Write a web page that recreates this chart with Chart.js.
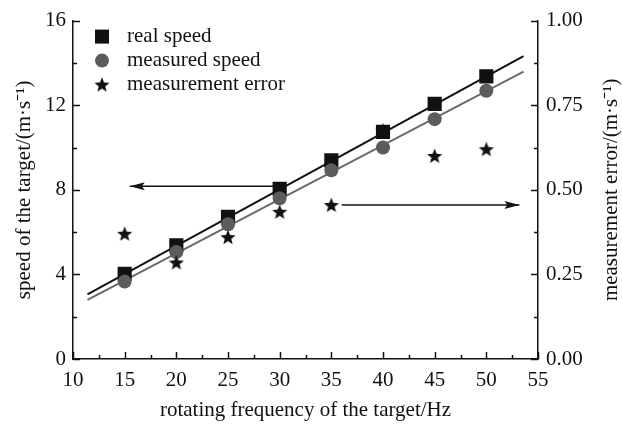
<!DOCTYPE html>
<html><head><meta charset="utf-8">
<script src="https://cdn.jsdelivr.net/npm/chart.js@4/dist/chart.umd.min.js"></script>
<style>html,body{margin:0;padding:0;background:#fff}#wrap{width:622px;height:424px}</style>
</head><body><div id="wrap"><canvas id="c" width="622" height="424"></canvas></div>
<script>
// ---- data ----
const frequency = [15, 20, 25, 30, 35, 40, 45, 50];
const realSpeed = [4.03, 5.38, 6.72, 8.05, 9.39, 10.74, 12.06, 13.36];
const measuredSpeed = [3.66, 5.06, 6.37, 7.6, 8.92, 10.0, 11.34, 12.68];
const measurementError = [0.37, 0.285, 0.36, 0.435, 0.455, 0.675, 0.6, 0.62];
const fitFrequency = [11.4, 53.6];
const realFit = [3.05, 14.32];
const measuredFit = [2.80, 13.59];
const leftArrowX = [30, 15.5];
const leftArrowY = [8.17, 8.17];
const rightArrowX = [36.0, 53.2];
const rightArrowY = [0.455, 0.455];
const xTickValues = [10, 15, 20, 25, 30, 35, 40, 45, 50, 55];
const leftTickValues = [0, 4, 8, 12, 16];
const rightTickValues = [0.00, 0.25, 0.50, 0.75, 1.00];
const legendLabels = ['real speed', 'measured speed', 'measurement error'];
const xTitle = 'rotating frequency of the target/Hz';
const leftTitle = 'speed of the target/(m·s⁻¹)';
const rightTitle = 'measurement error/(m·s⁻¹)';

const FONT = "'Liberation Serif', 'Times New Roman', serif";
Chart.defaults.font.family = FONT;
Chart.defaults.font.size = 21;
Chart.defaults.color = '#111';

function starPath(ctx, cx, cy, R, r) {
  ctx.beginPath();
  for (let i = 0; i < 10; i++) {
    const rad = i % 2 === 0 ? R : r;
    const a = -Math.PI / 2 + i * Math.PI / 5;
    const px = cx + rad * Math.cos(a), py = cy + rad * Math.sin(a);
    if (i === 0) ctx.moveTo(px, py); else ctx.lineTo(px, py);
  }
  ctx.closePath();
}
const starImg = document.createElement('canvas');
starImg.width = 18; starImg.height = 18;
(function () {
  const g = starImg.getContext('2d');
  g.fillStyle = '#111';
  starPath(g, 9, 9.6, 8, 3.4);
  g.fill();
})();

const pts = (xs, ys) => xs.map((x, i) => ({ x: x, y: ys[i] }));

const insideTicks = {
  id: 'insideTicks',
  afterDraw(chart) {
    const ctx = chart.ctx, a = chart.chartArea;
    ctx.save();
    ctx.strokeStyle = '#111';
    ctx.lineWidth = 1.5;
    const x = chart.scales.x, yl = chart.scales.y, yr = chart.scales.y2;
    ctx.beginPath();
    for (let v = 10; v <= 55.001; v += 2.5) {
      const p = Math.round(x.getPixelForValue(v)) + 0.5;
      const len = Math.abs(v % 5) < 1e-6 ? 7 : 4;
      ctx.moveTo(p, a.bottom); ctx.lineTo(p, a.bottom - len);
    }
    for (let v = 0; v <= 16.001; v += 2) {
      const p = Math.round(yl.getPixelForValue(v)) + 0.5;
      const len = Math.abs(v % 4) < 1e-6 ? 7 : 4;
      ctx.moveTo(a.left, p); ctx.lineTo(a.left + len, p);
    }
    for (let i = 0; i <= 8; i++) {
      const v = i * 0.125;
      const p = Math.round(yr.getPixelForValue(v)) + 0.5;
      const len = i % 2 === 0 ? 7 : 4;
      ctx.moveTo(a.right, p); ctx.lineTo(a.right - len, p);
    }
    ctx.stroke();
    // right axis title, reading bottom to top
    ctx.fillStyle = '#111';
    ctx.font = '21px ' + FONT;
    ctx.textAlign = 'center';
    ctx.textBaseline = 'middle';
    ctx.translate(611, (a.top + a.bottom) / 2);
    ctx.rotate(-Math.PI / 2);
    ctx.fillText(rightTitle, 0, 0);
    ctx.restore();
    // legend
    ctx.save();
    const lx = a.left + 29, ly = a.top + 16, step = 24;
    ctx.fillStyle = '#111';
    ctx.fillRect(lx - 7, ly - 7, 14, 14);
    ctx.fillStyle = '#5c5c5c';
    ctx.beginPath(); ctx.arc(lx, ly + step, 7, 0, Math.PI * 2); ctx.fill();
    ctx.drawImage(starImg, lx - 9, ly + 2 * step - 9);
    ctx.fillStyle = '#111';
    ctx.font = '21px ' + FONT;
    ctx.textAlign = 'left';
    ctx.textBaseline = 'middle';
    legendLabels.forEach((t, i) => ctx.fillText(t, lx + 25, ly + i * step));
    ctx.restore();
  }
};

const arrowHeads = {
  id: 'arrowHeads',
  afterDatasetsDraw(chart) {
    const ctx = chart.ctx;
    chart.data.datasets.forEach((ds, i) => {
      if (!ds.isArrow) return;
      const els = chart.getDatasetMeta(i).data;
      const p0 = els[els.length - 2], p1 = els[els.length - 1];
      const ang = Math.atan2(p1.y - p0.y, p1.x - p0.x);
      const L = 15, W = 4;
      ctx.save();
      ctx.fillStyle = '#111';
      ctx.translate(p1.x, p1.y);
      ctx.rotate(ang);
      ctx.beginPath();
      ctx.moveTo(0, 0);
      ctx.lineTo(-L, -W);
      ctx.lineTo(-L + 3, 0);
      ctx.lineTo(-L, W);
      ctx.closePath();
      ctx.fill();
      ctx.restore();
    });
  }
};

new Chart(document.getElementById('c'), {
  type: 'scatter',
  data: {
    datasets: [
      { data: pts(fitFrequency, realFit), showLine: true, borderColor: '#111', borderWidth: 2, pointRadius: 0, yAxisID: 'y', order: 5 },
      { data: pts(fitFrequency, measuredFit), showLine: true, borderColor: '#6a6a6a', borderWidth: 2, pointRadius: 0, yAxisID: 'y', order: 5 },
      { data: pts(leftArrowX, leftArrowY), showLine: true, borderColor: '#111', borderWidth: 1.5, pointRadius: 0, yAxisID: 'y', isArrow: true, order: 4 },
      { data: pts(rightArrowX, rightArrowY), showLine: true, borderColor: '#111', borderWidth: 1.5, pointRadius: 0, yAxisID: 'y2', isArrow: true, order: 4 },
      { label: legendLabels[0], data: pts(frequency, realSpeed), pointStyle: 'rect', pointRadius: 10, backgroundColor: '#111', borderColor: '#111', borderWidth: 0, yAxisID: 'y', order: 3 },
      { label: legendLabels[1], data: pts(frequency, measuredSpeed), pointStyle: 'circle', pointRadius: 7, backgroundColor: '#5c5c5c', borderColor: '#5c5c5c', borderWidth: 0, yAxisID: 'y', order: 2 },
      { label: legendLabels[2], data: pts(frequency, measurementError), pointStyle: starImg, pointRadius: 9, yAxisID: 'y2', order: 1 }
    ]
  },
  options: {
    responsive: false,
    animation: false,
    devicePixelRatio: 1,
    layout: { padding: { top: 17, left: 0, right: 0, bottom: 0 } },
    plugins: { legend: { display: false }, tooltip: { enabled: false } },
    scales: {
      x: {
        type: 'linear', min: 10, max: 55,
        afterBuildTicks: s => { s.ticks = xTickValues.map(v => ({ value: v })); },
        afterFit: s => { s.height = 65; },
        ticks: { padding: 9, maxRotation: 0, autoSkip: false },
        grid: { display: true, drawOnChartArea: false, drawTicks: false, color: 'rgba(0,0,0,0)' },
        border: { display: true, color: '#111', width: 1.5 },
        title: { display: true, text: xTitle, padding: { top: 0, bottom: 1 } }
      },
      y: {
        type: 'linear', position: 'left', min: 0, max: 16,
        afterBuildTicks: s => { s.ticks = leftTickValues.map(v => ({ value: v })); },
        afterFit: s => { s.width = 73; },
        ticks: { padding: 7 },
        grid: { display: true, drawOnChartArea: false, drawTicks: false, color: 'rgba(0,0,0,0)' },
        border: { display: true, color: '#111', width: 1.5 },
        title: { display: true, text: leftTitle, padding: { top: 12, bottom: 0 } }
      },
      y2: {
        type: 'linear', position: 'right', min: 0, max: 1,
        afterBuildTicks: s => { s.ticks = rightTickValues.map(v => ({ value: v })); },
        afterFit: s => { s.width = 84; },
        ticks: { padding: 8, callback: v => Number(v).toFixed(2) },
        grid: { display: true, drawOnChartArea: false, drawTicks: false, color: 'rgba(0,0,0,0)' },
        border: { display: true, color: '#111', width: 1.5 },
        title: { display: false }
      }
    }
  },
  plugins: [insideTicks, arrowHeads]
});
</script>
</body></html>
